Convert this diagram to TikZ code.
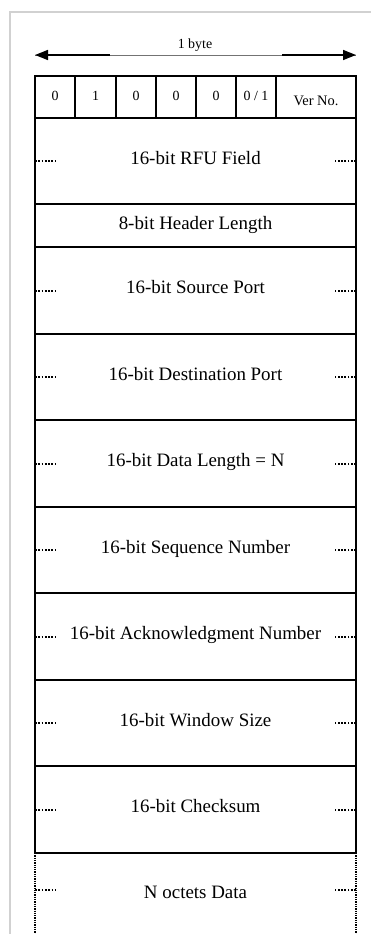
\documentclass[tikz,border=0pt]{standalone}
\usepackage{fontspec}
\setmainfont{Liberation Serif}
\usetikzlibrary{arrows.meta}
\begin{document}
\begin{tikzpicture}[x=1bp,y=-1bp,
  every node/.style={inner sep=0pt, outer sep=0pt},
  field/.style={draw, line width=1.6bp, minimum width=321bp,
    text height=12bp, text depth=6bp, font=\fontsize{19}{22}\selectfont},
  bitcell/.style={draw, line width=1.6bp, minimum height=42bp,
    text height=9bp, text depth=3bp, font=\fontsize{14}{16}\selectfont},
  marker/.style={line width=2bp, dash pattern=on 1.7bp off 1.6bp},
  sidedots/.style={line width=1.8bp, dash pattern=on 1.3bp off 1bp},
  frameline/.style={line width=1.5bp, color=black!18},
  tip/.style={-{Triangle[length=13bp,width=10bp]}},
]
\useasboundingbox (0,0) rectangle (371,934);
% light frame
\coordinate (fB) at (10,934);
\coordinate (fC) at (10,12);
\coordinate (fR) at (371,12);
\draw[frameline] (fB) -- (fC) -- (fR);

% width arrow
\coordinate (aL) at (35,55);
\coordinate (aR) at (356,55);
\coordinate (gL) at (110,55);
\coordinate (gR) at (282,55);
\draw[line width=0.6bp, black!55] (aL) -- (aR);
\draw[line width=1.5bp, tip] (gL) -- (aL);
\draw[line width=1.5bp, tip] (gR) -- (aR);
\node[anchor=base, font=\fontsize{14}{16}\selectfont] (byte) at (195,48) {1 byte};

% first byte bits
\node[bitcell, minimum width=40bp] (b0) at (55,97) {0};
\node[bitcell, minimum width=41bp] (b1) at (95.5,97) {1};
\node[bitcell, minimum width=40bp] (b2) at (136,97) {0};
\node[bitcell, minimum width=40bp] (b3) at (176,97) {0};
\node[bitcell, minimum width=40bp] (b4) at (216,97) {0};
\node[bitcell, minimum width=40bp] (b5) at (256,97) {0 / 1};
\node[bitcell, minimum width=80bp, text height=16bp, text depth=0bp, font=\fontsize{14.5}{16}\selectfont] (ver) at (316,97) {Ver No.};

% fields
\node[field, minimum height=86bp] (rfu) at (195.5,161) {16-bit RFU Field};
\node[field, minimum height=43bp, text height=12bp, text depth=5bp] (hlen) at (195.5,225.5) {8-bit Header Length};
\node[field, minimum height=87bp] (src) at (195.5,290.5) {16-bit Source Port};
\node[field, minimum height=86bp] (dst) at (195.5,377) {16-bit Destination Port};
\node[field, minimum height=87bp] (len) at (195.5,463.5) {16-bit Data Length = N};
\node[field, minimum height=86bp] (seq) at (195.5,550) {16-bit Sequence Number};
\node[field, minimum height=87bp] (ack) at (195.5,636.5) {16-bit Acknowledgment Number};
\node[field, minimum height=86bp] (win) at (195.5,723) {16-bit Window Size};
\node[field, minimum height=87bp] (chk) at (195.5,809.5) {16-bit Checksum};

% data field (open at the bottom)
\coordinate (dTL) at (35,853);
\coordinate (dTR) at (356,853);
\coordinate (dBL) at (35,934);
\coordinate (dBR) at (356,934);
\draw[sidedots] (dTL) -- (dBL);
\draw[sidedots] (dTR) -- (dBR);
\node[anchor=base, font=\fontsize{19}{22}\selectfont] (data) at (195.5,898) {N octets Data};
\coordinate (dW) at (35,890);
\coordinate (dE) at (356,890);

% dotted continuation markers
\foreach \n in {rfu,src,dst,len,seq,ack,win,chk}{
  \draw[marker] (\n.west) -- ++(21,0);
  \draw[marker] (\n.east) -- ++(-21,0);
}
\draw[marker] (dW) -- ++(21,0);
\draw[marker] (dE) -- ++(-21,0);
\end{tikzpicture}
\end{document}
